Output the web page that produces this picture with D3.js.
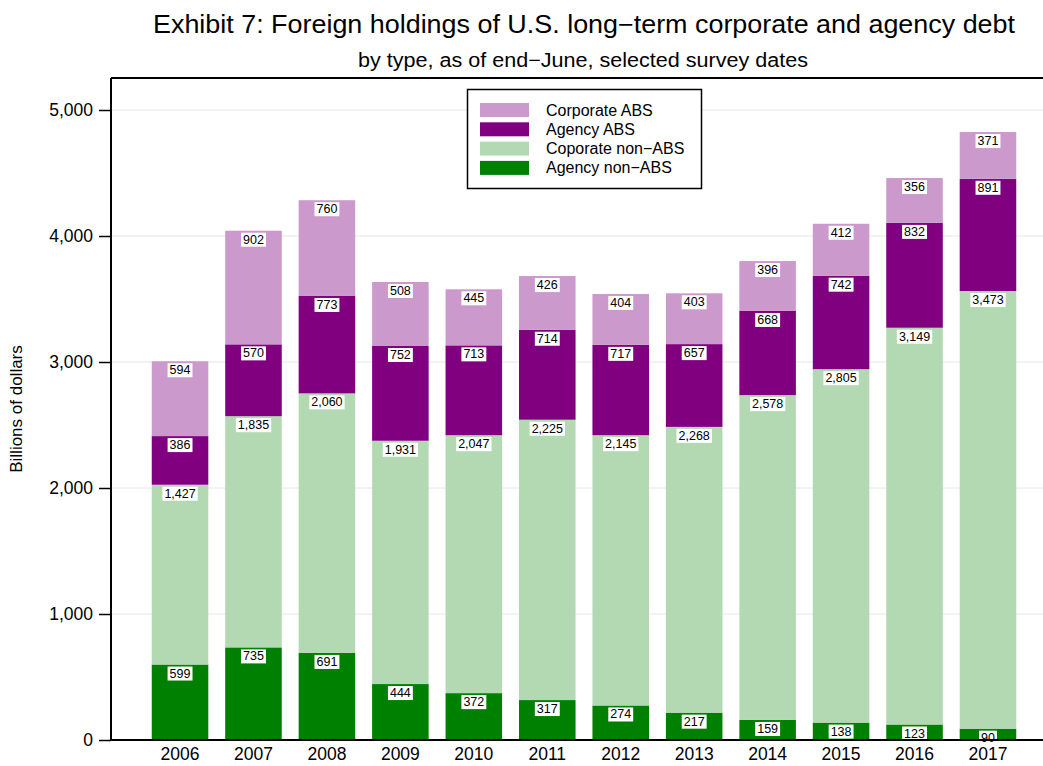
<!DOCTYPE html>
<html lang="en">
<head>
  <meta charset="UTF-8">
  <title>Exhibit 7</title>
  <script src="https://d3js.org/d3.v7.min.js"></script>
  <style>
    body { margin:0; background:#fff; }
    svg { font-family: 'Liberation Sans', Arial, sans-serif; }
  </style>
</head>
<body>
  <svg width="1043" height="766"></svg>
  <script>
    const years = ['2006', '2007', '2008', '2009', '2010', '2011', '2012', '2013', '2014', '2015', '2016', '2017']
    const agencyNonAbs = [599, 735, 691, 444, 372, 317, 274, 217, 159, 138, 123, 90]
    const corporateNonAbs = [1427, 1835, 2060, 1931, 2047, 2225, 2145, 2268, 2578, 2805, 3149, 3473]
    const agencyAbs = [386, 570, 773, 752, 713, 714, 717, 657, 668, 742, 832, 891]
    const corporateAbs = [594, 902, 760, 508, 445, 426, 404, 403, 396, 412, 356, 371]
    const yTicks = [0, 1000, 2000, 3000, 4000, 5000]

    // bottom to top
    const series = [
      {name: 'Agency non\u2212ABS', values: agencyNonAbs, color: '#008000'},
      {name: 'Coporate non\u2212ABS', values: corporateNonAbs, color: '#b3d9b3'},
      {name: 'Agency ABS', values: agencyAbs, color: '#800080'},
      {name: 'Corporate ABS', values: corporateAbs, color: '#cc99cc'}
    ]

    const svg = d3.select('svg')
    const plot = {left: 111, top: 78, right: 1043, bottom: 740}

    const x = d3.scaleBand()
      .domain(years)
      .range([143.3, 1024.7])
      .paddingInner(0.23)
      .paddingOuter(0.115)
    const y = d3.scaleLinear()
      .domain([0, 5000])
      .range([plot.bottom, 110])

    // gridlines
    svg.append('g').selectAll('line')
      .data(yTicks.slice(1))
      .enter().append('line')
      .attr('x1', plot.left).attr('x2', plot.right)
      .attr('y1', d => y(d)).attr('y2', d => y(d))
      .attr('stroke', '#e6e6e6').attr('stroke-width', 1)

    // stacked data
    const rows = years.map((yr, i) => {
      const r = {year: yr}
      series.forEach(s => { r[s.name] = s.values[i] })
      return r
    })
    const stacked = d3.stack().keys(series.map(s => s.name))(rows)

    stacked.forEach((layer, li) => {
      svg.append('g').selectAll('rect')
        .data(layer)
        .enter().append('rect')
        .attr('x', d => x(d.data.year))
        .attr('width', x.bandwidth())
        .attr('y', d => y(d[1]))
        .attr('height', d => y(d[0]) - y(d[1]))
        .attr('fill', series[li].color)
    })

    // value labels
    const fmt = d3.format(',')
    stacked.forEach(layer => {
      const g = svg.append('g')
      layer.forEach(d => {
        const cx = x(d.data.year) + x.bandwidth() / 2
        const cy = y(d[1]) + 9
        const t = g.append('text')
          .attr('x', cx).attr('y', cy)
          .attr('text-anchor', 'middle')
          .attr('dominant-baseline', 'central')
          .attr('font-size', 12.5)
          .attr('fill', '#000')
          .text(fmt(d[1] - d[0]))
        const bb = t.node().getBBox()
        g.insert('rect', () => t.node())
          .attr('x', bb.x - 2).attr('y', bb.y)
          .attr('width', bb.width + 4).attr('height', bb.height)
          .attr('fill', '#fff')
      })
    })

    // axes
    const yAxis = d3.axisLeft(y)
      .tickValues(yTicks)
      .tickFormat(d3.format(','))
      .tickSize(12)
      .tickPadding(6)
    const yg = svg.append('g')
      .attr('transform', 'translate(' + plot.left + ',0)')
      .call(yAxis)
    yg.select('.domain').remove()
    yg.selectAll('text').attr('font-size', 17.5).attr('font-family', 'Liberation Sans, Arial, sans-serif').attr('fill', '#000')
    yg.selectAll('line').attr('stroke', '#000').attr('stroke-width', 1.5)

    const xAxis = d3.axisBottom(x).tickSize(0).tickPadding(8)
    const xg = svg.append('g')
      .attr('transform', 'translate(0,' + plot.bottom + ')')
      .call(xAxis)
    xg.select('.domain').remove()
    xg.selectAll('text').attr('font-size', 17.5).attr('font-family', 'Liberation Sans, Arial, sans-serif').attr('fill', '#000')

    // frame lines
    svg.append('line')
      .attr('x1', plot.left).attr('x2', plot.left)
      .attr('y1', plot.top).attr('y2', plot.bottom)
      .attr('stroke', '#000').attr('stroke-width', 2)
    svg.append('line')
      .attr('x1', plot.left).attr('x2', plot.right)
      .attr('y1', plot.bottom).attr('y2', plot.bottom)
      .attr('stroke', '#000').attr('stroke-width', 2)
    svg.append('line')
      .attr('x1', plot.left).attr('x2', plot.right)
      .attr('y1', plot.top).attr('y2', plot.top)
      .attr('stroke', '#000').attr('stroke-width', 2)

    // titles
    svg.append('text')
      .attr('x', 584).attr('y', 33)
      .attr('text-anchor', 'middle')
      .attr('font-size', 25)
      .attr('textLength', 862)
      .attr('lengthAdjust', 'spacingAndGlyphs')
      .text('Exhibit 7: Foreign holdings of U.S. long\u2212term corporate and agency debt')
    svg.append('text')
      .attr('x', 583).attr('y', 67)
      .attr('text-anchor', 'middle')
      .attr('font-size', 20)
      .attr('textLength', 450)
      .attr('lengthAdjust', 'spacingAndGlyphs')
      .text('by type, as of end\u2212June, selected survey dates')
    svg.append('text')
      .attr('transform', 'translate(22,409) rotate(-90)')
      .attr('text-anchor', 'middle')
      .attr('font-size', 17)
      .text('Billions of dollars')

    // legend
    const legend = svg.append('g')
    legend.append('rect')
      .attr('x', 467.5).attr('y', 89.5)
      .attr('width', 234).attr('height', 99)
      .attr('fill', '#fff').attr('stroke', '#000').attr('stroke-width', 1.5)
    const legendItems = series.slice().reverse()
    legendItems.forEach((s, i) => {
      const cy = 110 + i * 19.3
      legend.append('rect')
        .attr('x', 480).attr('y', cy - 7)
        .attr('width', 49).attr('height', 14)
        .attr('fill', s.color)
      legend.append('text')
        .attr('x', 546).attr('y', cy)
        .attr('dominant-baseline', 'central')
        .attr('font-size', 16)
        .text(s.name)
    })
  </script>
</body>
</html>
